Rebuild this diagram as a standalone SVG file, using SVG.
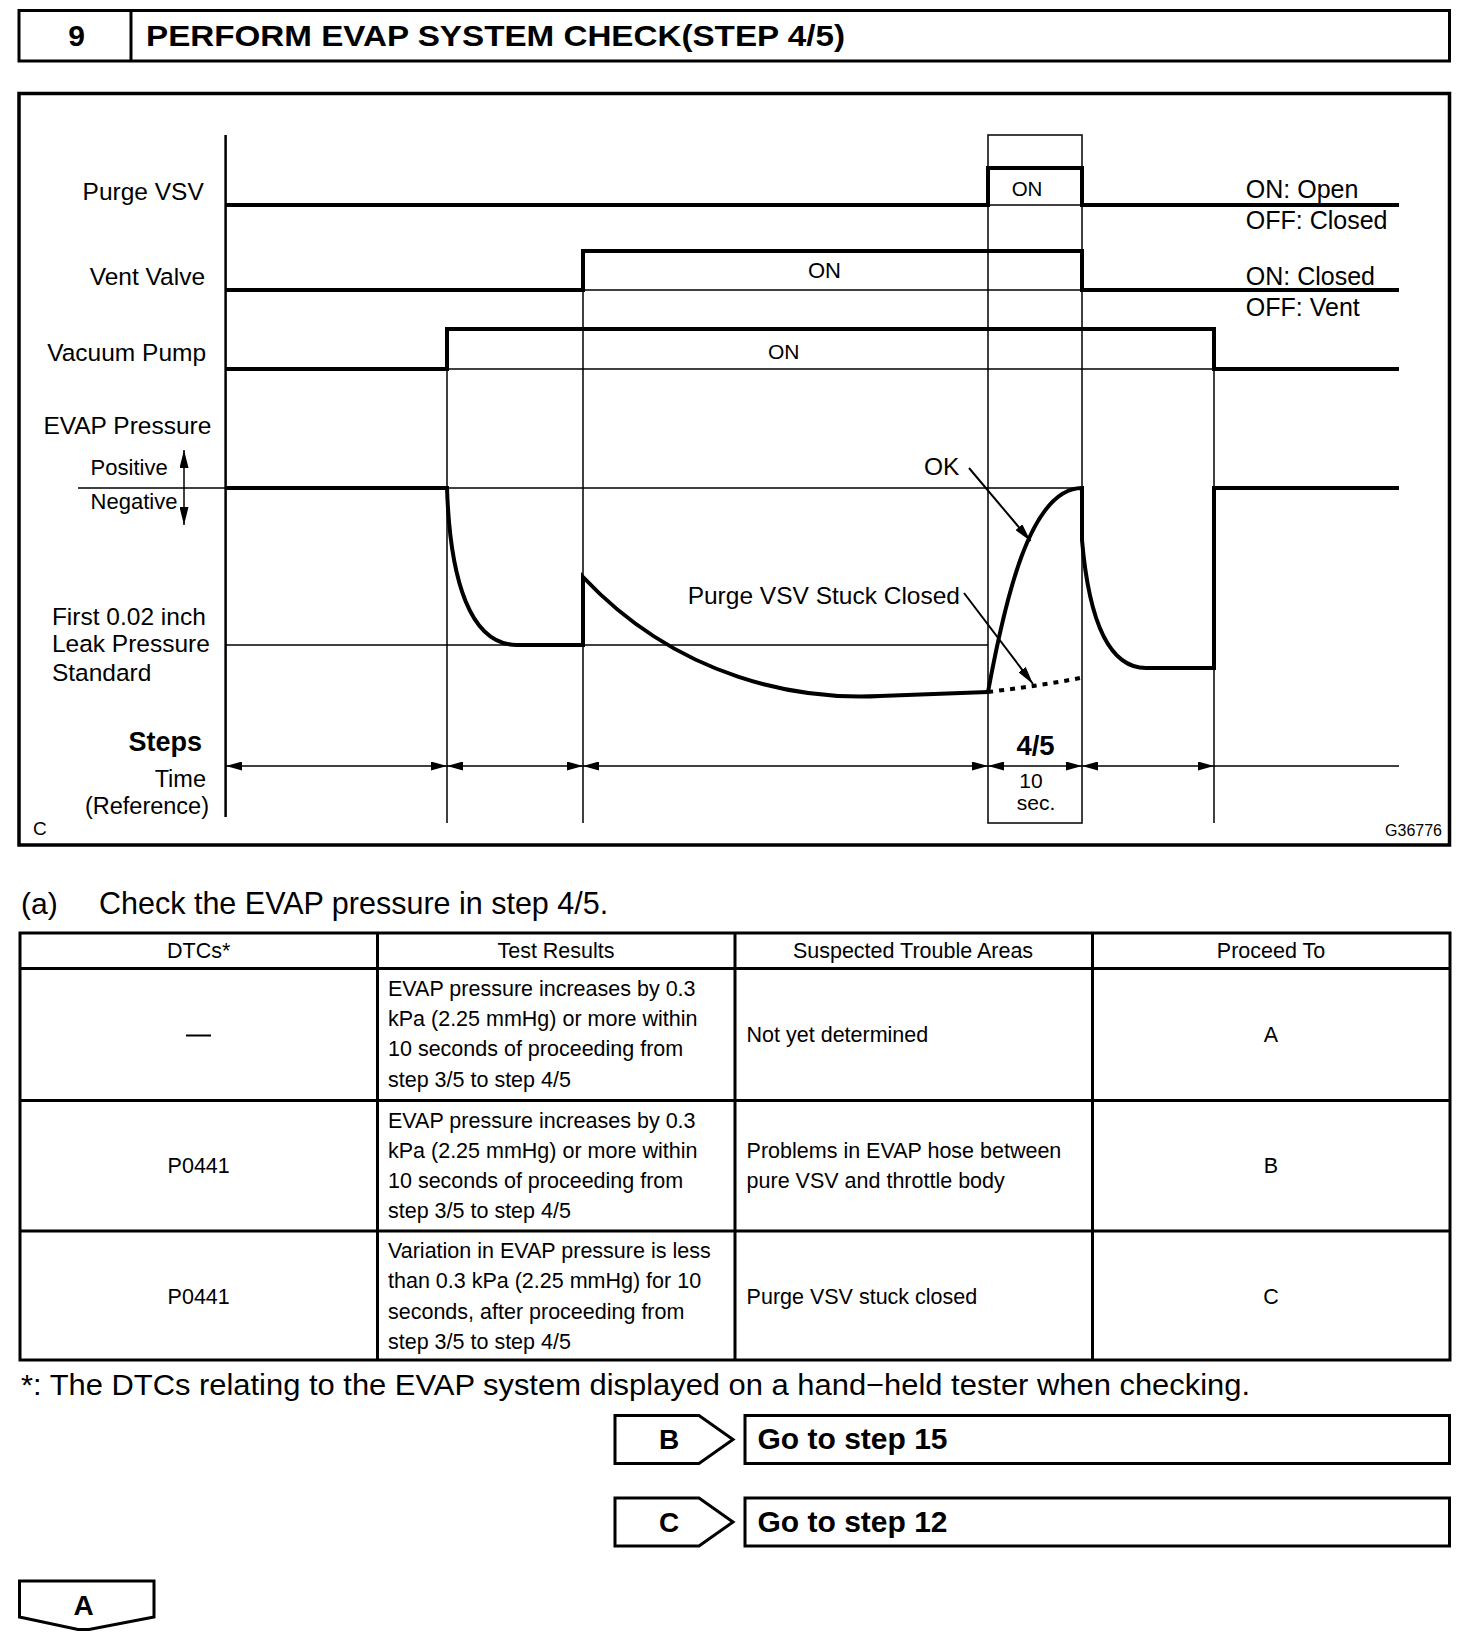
<svg xmlns="http://www.w3.org/2000/svg" width="1472" height="1638" viewBox="0 0 1472 1638">
<style>
text{font-family:"Liberation Sans",Arial,Helvetica,sans-serif;fill:#000}
.lbl{font-size:24.5px}
.sm{font-size:22px}
.on{font-size:21px;text-anchor:middle}
.td{font-size:21.5px}
.tc{font-size:21.5px;text-anchor:middle}
.b{font-weight:bold}
.thick{fill:none;stroke:#000;stroke-width:4;stroke-linejoin:miter}
.thin{fill:none;stroke:#000;stroke-width:1.5}
.frame{fill:none;stroke:#000;stroke-width:3.5}
.tbl{fill:none;stroke:#000;stroke-width:3}
.arr{stroke:#000;stroke-width:1.5;fill:none}
</style>
<defs>
<marker id="ah" viewBox="0 0 16 9" refX="16" refY="4.5" markerWidth="16" markerHeight="9" markerUnits="userSpaceOnUse" orient="auto-start-reverse">
<path d="M0,0 L16,4.5 L0,9 z" fill="#000"/>
</marker>
<marker id="ah2" viewBox="0 0 18 9" refX="18" refY="4.5" markerWidth="18" markerHeight="9" markerUnits="userSpaceOnUse" orient="auto-start-reverse">
<path d="M0,0 L18,4.5 L0,9 z" fill="#000"/>
</marker>
</defs>
<rect width="1472" height="1638" fill="#fff"/>

<!-- Header -->
<g id="header">
<rect x="19" y="10.5" width="1430.5" height="50.5" class="frame" style="stroke-width:3"/>
<line x1="131" y1="10.5" x2="131" y2="61" class="tbl"/>
<text x="76.5" y="46" class="b" style="font-size:30px" text-anchor="middle">9</text>
<text x="146" y="46" class="b" style="font-size:30px" textLength="699" lengthAdjust="spacingAndGlyphs">PERFORM EVAP SYSTEM CHECK(STEP 4/5)</text>
</g>

<!-- Chart -->
<g id="chart">
<rect x="19" y="93.5" width="1430.5" height="751.5" class="frame"/>
<line x1="225.6" y1="135" x2="225.6" y2="817" stroke="#000" stroke-width="2.5"/>

<g id="labels">
<text x="82.6" y="199.5" class="lbl">Purge VSV</text>
<text x="89.7" y="284.5" class="lbl">Vent Valve</text>
<text x="47.2" y="361" class="lbl">Vacuum Pump</text>
<text x="43.4" y="434" class="lbl">EVAP Pressure</text>
<text x="90.6" y="474.5" class="sm">Positive</text>
<text x="90.6" y="508.5" class="sm">Negative</text>
<text x="51.9" y="625" class="lbl">First 0.02 inch</text>
<text x="51.9" y="652" class="lbl">Leak Pressure</text>
<text x="51.9" y="681" class="lbl">Standard</text>
<text x="202" y="751" class="b" style="font-size:27px" text-anchor="end">Steps</text>
<text x="206" y="787" style="font-size:23.5px" text-anchor="end">Time</text>
<text x="209" y="813.5" style="font-size:23.5px" text-anchor="end">(Reference)</text>
<text x="33" y="835" style="font-size:19px">C</text>
<text x="1442" y="836" style="font-size:16px" text-anchor="end">G36776</text>
<text x="1245.8" y="197.5" style="font-size:25px">ON: Open</text>
<text x="1245.8" y="229" style="font-size:25px">OFF: Closed</text>
<text x="1245.8" y="284.5" style="font-size:25px">ON: Closed</text>
<text x="1245.8" y="315.5" style="font-size:25px">OFF: Vent</text>
<text x="1027" y="195.5" class="on" style="font-size:20.5px">ON</text>
<text x="824.5" y="278" class="on" style="font-size:22px">ON</text>
<text x="783.7" y="358.5" class="on">ON</text>
<text x="924" y="474.5" class="lbl">OK</text>
<text x="960" y="604" class="lbl" text-anchor="end">Purge VSV Stuck Closed</text>
<text x="1035.5" y="754.5" class="b" style="font-size:27.5px" text-anchor="middle">4/5</text>
<text x="1031" y="788" class="on">10</text>
<text x="1036" y="810" class="on">sec.</text>
</g>

<g id="gridlines">
<line x1="447" y1="369" x2="447" y2="823" class="thin"/>
<line x1="583" y1="290" x2="583" y2="823" class="thin"/>
<line x1="1214" y1="369" x2="1214" y2="823" class="thin"/>
<rect x="988" y="135" width="94" height="688" class="thin"/>
<line x1="988" y1="205" x2="1082" y2="205" class="thin"/>
<line x1="583" y1="290" x2="1082" y2="290" class="thin"/>
<line x1="447" y1="369" x2="1214" y2="369" class="thin"/>
<line x1="78" y1="488" x2="226" y2="488" class="thin"/>
<line x1="447" y1="488" x2="1082" y2="488" class="thin"/>
<line x1="226" y1="645" x2="988" y2="645" class="thin"/>
</g>

<g id="signals">
<path class="thick" d="M226,205 H988 V168 H1082 V205 H1399"/>
<path class="thick" d="M226,290 H583 V251 H1082 V290 H1399"/>
<path class="thick" d="M226,369 H447 V329 H1214 V369 H1399"/>
<path class="thick" d="M226,488 H447 C450,580 470,645 517,645 H583 V577 C680,680 800,700 880,696 C930,694 960,693 988,692"/>
<path class="thick" d="M988,692 C1005,600 1030,488 1082,488 V540 C1088,610 1105,668 1146,668 H1214 V488 H1399"/>
<path d="M988,692 C1020,688 1050,684 1080,678" fill="none" stroke="#000" stroke-width="4" stroke-dasharray="5 6"/>
</g>
</g>

<!-- Connectors / arrows -->
<g id="connectors">
<line x1="184" y1="450" x2="184" y2="525" class="arr" marker-start="url(#ah2)" marker-end="url(#ah2)"/>
<line x1="969" y1="468" x2="1030.5" y2="541" class="arr" style="stroke-width:2" marker-end="url(#ah2)"/>
<line x1="964" y1="593" x2="1033" y2="684" class="arr" style="stroke-width:2" marker-end="url(#ah2)"/>
<line x1="226" y1="766" x2="447" y2="766" class="arr" marker-start="url(#ah)" marker-end="url(#ah)"/>
<line x1="447" y1="766" x2="583" y2="766" class="arr" marker-start="url(#ah)" marker-end="url(#ah)"/>
<line x1="583" y1="766" x2="988" y2="766" class="arr" marker-start="url(#ah)" marker-end="url(#ah)"/>
<line x1="988" y1="766" x2="1082" y2="766" class="arr" marker-start="url(#ah)" marker-end="url(#ah)"/>
<line x1="1082" y1="766" x2="1214" y2="766" class="arr" marker-start="url(#ah)" marker-end="url(#ah)"/>
<line x1="1214" y1="766" x2="1399" y2="766" class="arr"/>
</g>

<!-- Instruction -->
<g id="instruction">
<text x="21" y="913.5" style="font-size:30px">(a)</text>
<text x="99" y="913.5" style="font-size:30.5px">Check the EVAP pressure in step 4/5.</text>
</g>

<!-- Table -->
<g id="table">
<rect x="20" y="933" width="1430" height="427" class="tbl"/>
<line x1="20" y1="968.5" x2="1450" y2="968.5" class="tbl"/>
<line x1="20" y1="1100.5" x2="1450" y2="1100.5" class="tbl"/>
<line x1="20" y1="1231" x2="1450" y2="1231" class="tbl"/>
<line x1="377.5" y1="933" x2="377.5" y2="1360" class="tbl"/>
<line x1="735" y1="933" x2="735" y2="1360" class="tbl"/>
<line x1="1092.5" y1="933" x2="1092.5" y2="1360" class="tbl"/>
<text x="198.7" y="958" class="tc">DTCs*</text>
<text x="556" y="958" class="tc">Test Results</text>
<text x="913" y="958" class="tc">Suspected Trouble Areas</text>
<text x="1271" y="958" class="tc">Proceed To</text>

<line x1="186" y1="1035.5" x2="211" y2="1035.5" stroke="#000" stroke-width="2"/>
<text x="388" y="995.8" class="td">EVAP pressure increases by 0.3</text>
<text x="388" y="1026" class="td">kPa (2.25 mmHg) or more within</text>
<text x="388" y="1056.4" class="td">10 seconds of proceeding from</text>
<text x="388" y="1086.7" class="td">step 3/5 to step 4/5</text>
<text x="746.6" y="1041.7" class="td">Not yet determined</text>
<text x="1271" y="1041.7" class="tc">A</text>

<text x="198.7" y="1173.4" class="tc">P0441</text>
<text x="388" y="1127.5" class="td">EVAP pressure increases by 0.3</text>
<text x="388" y="1157.7" class="td">kPa (2.25 mmHg) or more within</text>
<text x="388" y="1188" class="td">10 seconds of proceeding from</text>
<text x="388" y="1218.3" class="td">step 3/5 to step 4/5</text>
<text x="746.6" y="1157.7" class="td">Problems in EVAP hose between</text>
<text x="746.6" y="1188" class="td">pure VSV and throttle body</text>
<text x="1271" y="1173.4" class="tc">B</text>

<text x="198.7" y="1304" class="tc">P0441</text>
<text x="388" y="1258" class="td">Variation in EVAP pressure is less</text>
<text x="388" y="1288.3" class="td">than 0.3 kPa (2.25 mmHg) for 10</text>
<text x="388" y="1318.6" class="td">seconds, after proceeding from</text>
<text x="388" y="1348.9" class="td">step 3/5 to step 4/5</text>
<text x="746.6" y="1304" class="td">Purge VSV stuck closed</text>
<text x="1271" y="1304" class="tc">C</text>
</g>

<g id="footnote">
<text x="21" y="1394.5" style="font-size:30px" textLength="1229" lengthAdjust="spacingAndGlyphs">*: The DTCs relating to the EVAP system displayed on a hand−held tester when checking.</text>
</g>

<!-- Result boxes -->
<g id="result-B">
<path d="M615,1415.5 H699 L733,1439.5 L699,1463.5 H615 Z" class="tbl"/>
<text x="669" y="1449" class="b" style="font-size:28px" text-anchor="middle">B</text>
</g>
<g id="goto-15">
<rect x="745" y="1415.5" width="704.5" height="48" class="tbl"/>
<text x="757.5" y="1449" class="b" style="font-size:30px">Go to step 15</text>
</g>
<g id="result-C">
<path d="M615,1498 H699 L733,1522 L699,1546 H615 Z" class="tbl"/>
<text x="669" y="1532" class="b" style="font-size:28px" text-anchor="middle">C</text>
</g>
<g id="goto-12">
<rect x="745" y="1498" width="704.5" height="48" class="tbl"/>
<text x="757.5" y="1532" class="b" style="font-size:30px">Go to step 12</text>
</g>
<g id="result-A">
<path d="M19.5,1581 H154 V1617 L89,1629.5 H78 L19.5,1617 Z" class="tbl"/>
<text x="83.5" y="1615" class="b" style="font-size:28px" text-anchor="middle">A</text>
</g>
</svg>
